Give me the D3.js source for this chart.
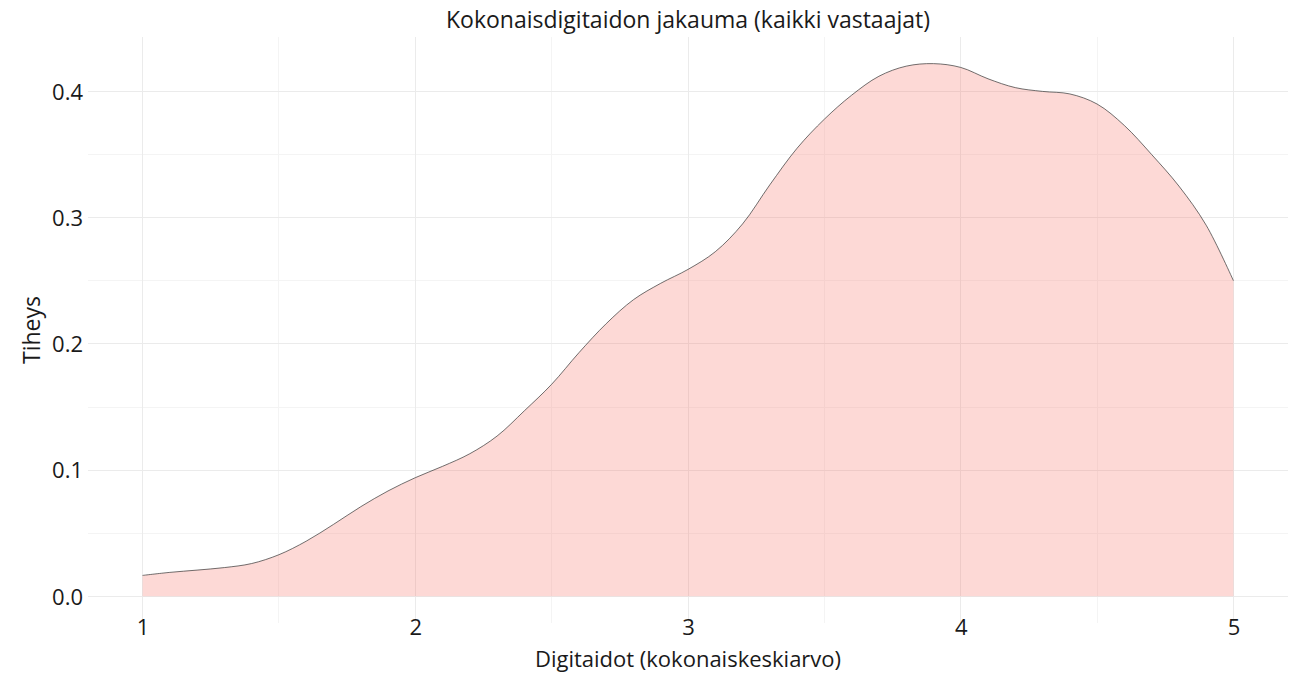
<!DOCTYPE html>
<meta charset="utf-8">
<style>
    body {
        margin: 0;
        background-color: #ffffff;
    }

    text {
        font-family: "Open Sans", sans-serif;
        fill: #1a1a1a;
    }

    .grid line {
        stroke: #ebebeb;
        stroke-width: 1px;
        shape-rendering: crispEdges;
    }

    .grid .minor {
        stroke: #f4f4f4;
    }

    .area {
        fill: #F8766D;
        fill-opacity: 0.28;
    }

    .line {
        fill: none;
        stroke: #333333;
        stroke-width: 0.7px;
    }
</style>

<body>
    <svg width="1294" height="676"></svg>
    <script src="https://d3js.org/d3.v7.min.js"></script>
    <script>
        // density estimate
        var score = [1.0, 1.1, 1.2, 1.3, 1.4, 1.5, 1.6, 1.7, 1.8, 1.9,
            2.0, 2.1, 2.2, 2.3, 2.4, 2.5, 2.6, 2.7, 2.8, 2.9,
            3.0, 3.1, 3.2, 3.3, 3.4, 3.5, 3.6, 3.7, 3.8, 3.9,
            4.0, 4.1, 4.2, 4.3, 4.4, 4.5, 4.6, 4.7, 4.8, 4.9, 5.0];
        var density = [0.0166, 0.019, 0.0208, 0.0228, 0.026, 0.033, 0.0437, 0.057, 0.071, 0.0835,
            0.094, 0.103, 0.113, 0.127, 0.147, 0.168, 0.193, 0.216, 0.235, 0.248,
            0.259, 0.273, 0.295, 0.326, 0.355, 0.378, 0.397, 0.412, 0.420, 0.422,
            0.419, 0.410, 0.403, 0.400, 0.398, 0.390, 0.373, 0.350, 0.325, 0.294, 0.250];
        var xTicks = [1, 2, 3, 4, 5];
        var xMinor = [1.5, 2.5, 3.5, 4.5];
        var yTicks = [0, 0.1, 0.2, 0.3, 0.4];
        var yMinor = [0.05, 0.15, 0.25, 0.35];

        var svg = d3.select("svg"),
            panel = { left: 88, right: 1288, top: 37, bottom: 623 };

        var data = score.map(function(s, i) {
            return { x: s, y: density[i] };
        });

        var xMax = d3.max(score), xMin = d3.min(score),
            yMax = d3.max(density);
        var xPad = (xMax - xMin) * 0.05, yPad = yMax * 0.05;

        var x = d3.scaleLinear()
            .domain([xMin - xPad, xMax + xPad])
            .range([panel.left, panel.right]);
        var y = d3.scaleLinear()
            .domain([-yPad, yMax + yPad])
            .range([panel.bottom, panel.top]);

        var grid = svg.append("g").attr("class", "grid");

        grid.selectAll(".minor.v").data(xMinor).enter().append("line")
            .attr("class", "minor v")
            .attr("x1", function(d) { return x(d); })
            .attr("x2", function(d) { return x(d); })
            .attr("y1", panel.top).attr("y2", panel.bottom);
        grid.selectAll(".minor.h").data(yMinor).enter().append("line")
            .attr("class", "minor h")
            .attr("y1", function(d) { return y(d); })
            .attr("y2", function(d) { return y(d); })
            .attr("x1", panel.left).attr("x2", panel.right);
        grid.selectAll(".major.v").data(xTicks).enter().append("line")
            .attr("class", "major v")
            .attr("x1", function(d) { return x(d); })
            .attr("x2", function(d) { return x(d); })
            .attr("y1", panel.top).attr("y2", panel.bottom);
        grid.selectAll(".major.h").data(yTicks).enter().append("line")
            .attr("class", "major h")
            .attr("y1", function(d) { return y(d); })
            .attr("y2", function(d) { return y(d); })
            .attr("x1", panel.left).attr("x2", panel.right);

        var area = d3.area()
            .x(function(d) { return x(d.x); })
            .y0(y(0))
            .y1(function(d) { return y(d.y); })
            .curve(d3.curveCatmullRom.alpha(0.5));

        var line = d3.line()
            .x(function(d) { return x(d.x); })
            .y(function(d) { return y(d.y); })
            .curve(d3.curveCatmullRom.alpha(0.5));

        svg.append("path").datum(data).attr("class", "area").attr("d", area);
        svg.append("path").datum(data).attr("class", "line").attr("d", line);

        // axes without lines, ggplot minimal style
        var xAxis = svg.append("g")
            .attr("transform", "translate(0," + panel.bottom + ")")
            .call(d3.axisBottom(x).tickValues(xTicks).tickSize(0).tickPadding(0)
                .tickFormat(d3.format("d")));
        var yAxis = svg.append("g")
            .attr("transform", "translate(" + (panel.left - 4) + ",0)")
            .call(d3.axisLeft(y).tickValues(yTicks).tickSize(0).tickPadding(1)
                .tickFormat(d3.format(".1f")));
        [xAxis, yAxis].forEach(function(a) {
            a.select(".domain").remove();
            a.selectAll("text").style("font-size", "22px").attr("fill", "#1a1a1a")
                .style("font-family", "'Open Sans', sans-serif");
        });
        xAxis.selectAll("text").attr("dy", "0.55em");
        yAxis.selectAll("text").attr("dy", "0.35em");

        svg.append("text")
            .attr("x", (panel.left + panel.right) / 2)
            .attr("y", 28)
            .attr("text-anchor", "middle")
            .style("font-size", "23px")
            .text("Kokonaisdigitaidon jakauma (kaikki vastaajat)");

        svg.append("text")
            .attr("x", (panel.left + panel.right) / 2)
            .attr("y", 667)
            .attr("text-anchor", "middle")
            .style("font-size", "22px")
            .text("Digitaidot (kokonaiskeskiarvo)");

        svg.append("text")
            .attr("transform", "translate(40," + ((panel.top + panel.bottom) / 2) + ") rotate(-90)")
            .attr("text-anchor", "middle")
            .style("font-size", "23px")
            .text("Tiheys");
    </script>
</body>
